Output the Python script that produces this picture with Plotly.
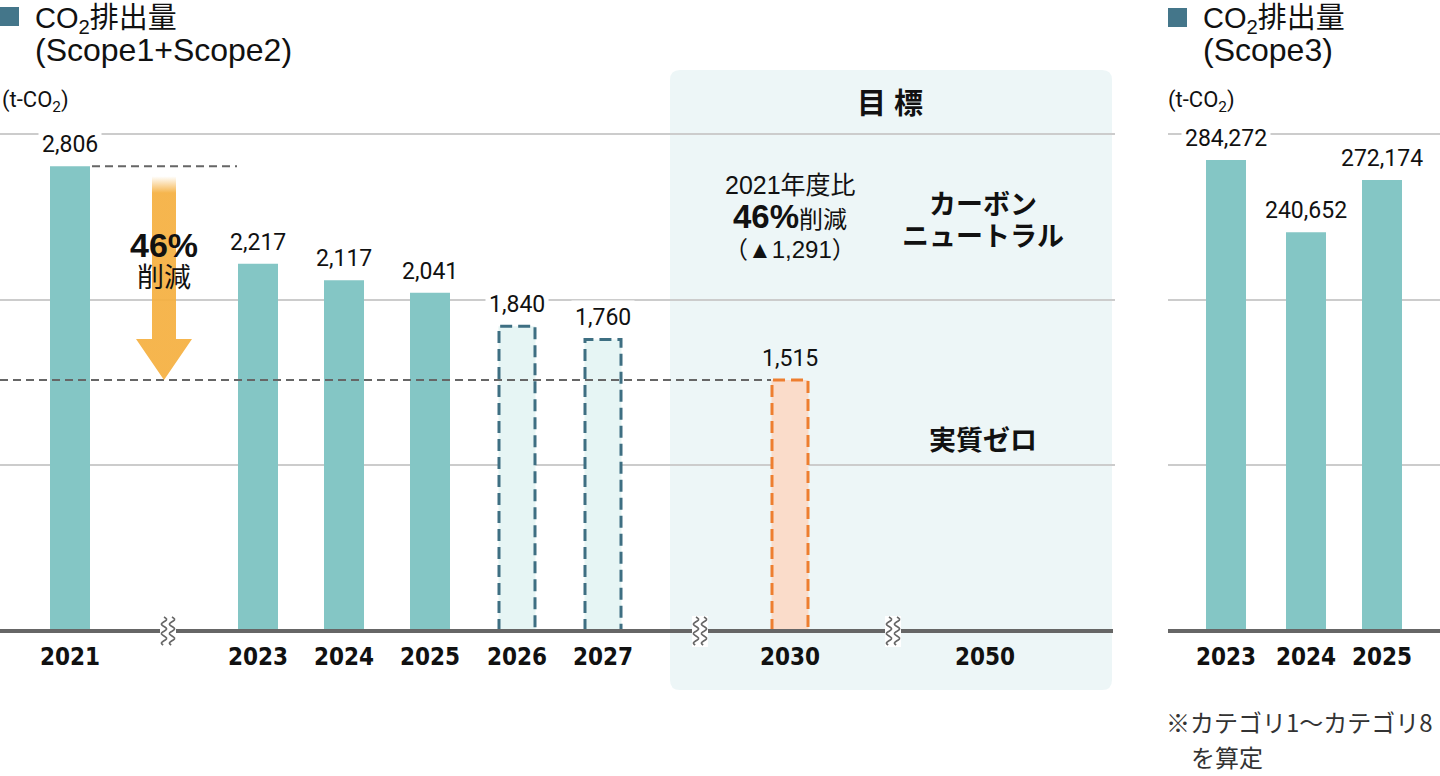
import math
import plotly.graph_objects as go

W, H = 1440, 776

# ---------------- data ----------------
s12_actual_years = ["2021", "2023", "2024", "2025"]
s12_actual = [2806, 2217, 2117, 2041]
s12_plan_years = ["2026", "2027"]
s12_plan = [1840, 1760]
s12_target_years = ["2030"]
s12_target = [1515]
s12_tick_years = ["2021", "2023", "2024", "2025", "2026", "2027", "2030", "2050"]
s3_years = ["2023", "2024", "2025"]
s3_values = [284272, 240652, 272174]
reduction_pct = 46
reduction_abs = 1291

# ---------------- layout constants (pixel slots) ----------------
SLOT = {"2021": 70, "2023": 258, "2024": 344, "2025": 430, "2026": 517,
        "2027": 603, "2030": 790, "2050": 985}
SLOT3 = {"2023": 1226, "2024": 1306, "2025": 1382}
BREAKS = [168, 700, 893]
BASE_PX, GRID_TOP_PX, DOM_TOP_PX = 631, 134, 118
Y1_GRID, Y3_GRID = 3000, 300000
PX_PER_UNIT = (BASE_PX - GRID_TOP_PX) / Y1_GRID
UNIT_PER_PX = 1 / PX_PER_UNIT
Y1_MAX = (BASE_PX - DOM_TOP_PX) * UNIT_PER_PX
Y3_MAX = Y1_MAX * Y3_GRID / Y1_GRID

TEAL = "#84C6C5"
PLAN_FILL, PLAN_LINE = "#E6F5F4", "#3E6F82"
TGT_FILL, TGT_LINE = "#FADCCA", "#EE7E2F"
BOX = "#EDF6F7"
GRID = "#cccccc"
AXIS = "#666666"
SQUARE = "#44768A"

NUM_FONT = "Roboto, sans-serif"
TICK_FONT = "DejaVu Sans Condensed, Roboto, sans-serif"
JP_FONT = "Liberation Sans, Noto Sans CJK JP, sans-serif"


def px(x):
    return x / W


def py(y):
    return (H - y) / H


fig = go.Figure()

# dashed reference lines
fig.add_trace(go.Scatter(
    x=[SLOT["2021"] + 22, 237], y=[s12_actual[0]] * 2, mode="lines",
    line=dict(color=AXIS, width=2, dash="8px,5px"), hoverinfo="skip", showlegend=False))
fig.add_trace(go.Scatter(
    x=[0, SLOT["2030"] - 19], y=[s12_target[0]] * 2, mode="lines",
    line=dict(color=AXIS, width=2, dash="8px,5px"), hoverinfo="skip", showlegend=False))

# reduction arrow (from 2021 level down to 2030 target level)
cx = (SLOT["2021"] + SLOT["2023"]) / 2
top = s12_actual[0] - 6 * UNIT_PER_PX
tip = s12_target[0]
head_base = tip + 41 * UNIT_PER_PX
sh, hh = 12, 28
fig.add_trace(go.Scatter(
    x=[cx - sh, cx + sh, cx + sh, cx + hh, cx, cx - hh, cx - sh, cx - sh],
    y=[top, top, head_base, head_base, tip, head_base, head_base, top],
    mode="lines", fill="toself", line=dict(width=0, color="rgba(0,0,0,0)"),
    fillgradient=dict(type="vertical",
                      colorscale=[[0, "#F5B041"], [0.9, "#F5B041"], [0.98, "#FFFFFF"], [1, "#FFFFFF"]]),
    opacity=0.93, hoverinfo="skip", showlegend=False))

# actual bars
fig.add_trace(go.Bar(
    x=[SLOT[y] for y in s12_actual_years], y=s12_actual, width=40,
    marker=dict(color=TEAL, line=dict(width=0)), hoverinfo="skip", showlegend=False))


def dashed_bars(years, vals, fill, line):
    fig.add_trace(go.Bar(
        x=[SLOT[y] for y in years], y=vals, width=37,
        marker=dict(color=fill, line=dict(width=0)), hoverinfo="skip", showlegend=False))
    xs, ys = [], []
    for y, v in zip(years, vals):
        c = SLOT[y]
        xs += [c - 18, c - 18, c + 18, c + 18, None]
        ys += [0, v, v, 0, None]
    fig.add_trace(go.Scatter(
        x=xs, y=ys, mode="lines", line=dict(color=line, width=3, dash="12px,6px"),
        hoverinfo="skip", showlegend=False))


dashed_bars(s12_plan_years, s12_plan, PLAN_FILL, PLAN_LINE)
dashed_bars(s12_target_years, s12_target, TGT_FILL, TGT_LINE)

# scope 3 bars
fig.add_trace(go.Bar(
    x=[SLOT3[y] for y in s3_years], y=s3_values, width=40, xaxis="x2", yaxis="y2",
    marker=dict(color=TEAL, line=dict(width=0)), hoverinfo="skip", showlegend=False))

annotations = []


def value_label(x, v, xref, yref, bg):
    annotations.append(dict(
        x=x, y=v, xref=xref, yref=yref, text=f"{v:,}", showarrow=False,
        yanchor="bottom", yshift=4, bgcolor=bg, borderpad=3,
        font=dict(family=NUM_FONT, size=23, color="#111111")))


for y, v in zip(s12_actual_years, s12_actual):
    value_label(SLOT[y], v, "x", "y", "white")
for y, v in zip(s12_plan_years, s12_plan):
    value_label(SLOT[y], v, "x", "y", "white")
for y, v in zip(s12_target_years, s12_target):
    value_label(SLOT[y], v, "x", "y", BOX)
for y, v in zip(s3_years, s3_values):
    value_label(SLOT3[y], v, "x2", "y2", "white")


def txt(x, y, text, size, bold=False, xanchor="center", family=JP_FONT, color="#111111", align="center"):
    annotations.append(dict(
        x=px(x), y=py(y), xref="paper", yref="paper", text=text, showarrow=False,
        xanchor=xanchor, yanchor="middle", align=align,
        font=dict(family=family, size=size, color=color, weight="bold" if bold else "normal")))


def title(x, sub):
    txt(x, 35, "<span style='font-size:29px'>CO<sub>2</sub>排出量</span><br>"
               f"<span style='font-size:32px'>{sub}</span>", 25, xanchor="left", align="left")


# titles
title(33, "(Scope1+Scope2)")
title(1201, "(Scope3)")
txt(0, 102, "(t-CO<sub>2</sub>)", 22, xanchor="left", family=NUM_FONT)
txt(1166, 102, "(t-CO<sub>2</sub>)", 22, xanchor="left", family=NUM_FONT)

# arrow text
txt(cx, 245, f"<b>{reduction_pct}%</b>", 34)
txt(cx, 278, "削減", 27)

# target box text
txt(890, 104, "目 標", 29, bold=True)
txt(790, 185, "2021年度比", 25)
txt(790, 216, f"<b>{reduction_pct}%</b><span style='font-size:24px'>削減</span>", 33)
txt(790, 250, f"（▲{reduction_abs:,}）", 24)
txt(983, 205, "カーボン", 27, bold=True)
txt(983, 237, "ニュートラル", 27, bold=True)
txt(983, 440, "実質ゼロ", 27, bold=True)

# footnote
txt(1164, 721, "※カテゴリ1～カテゴリ8", 24, xanchor="left", family="Noto Sans CJK JP", color="#333333")
txt(1189, 756, "を算定", 24, xanchor="left", family="Noto Sans CJK JP", color="#333333")

shapes = []

# target box with rounded corners
x0, x1, y0, y1, r = 670, 1112, 70, 690, 10
path = (f"M {px(x0 + r)},{py(y0)} L {px(x1 - r)},{py(y0)} "
        f"Q {px(x1)},{py(y0)} {px(x1)},{py(y0 + r)} L {px(x1)},{py(y1 - r)} "
        f"Q {px(x1)},{py(y1)} {px(x1 - r)},{py(y1)} L {px(x0 + r)},{py(y1)} "
        f"Q {px(x0)},{py(y1)} {px(x0)},{py(y1 - r)} L {px(x0)},{py(y0 + r)} "
        f"Q {px(x0)},{py(y0)} {px(x0 + r)},{py(y0)} Z")
shapes.append(dict(type="path", path=path, xref="paper", yref="paper",
                   fillcolor=BOX, line=dict(width=0), layer="below"))

# baselines
shapes.append(dict(type="line", xref="paper", yref="paper", x0=px(0), x1=px(1113),
                   y0=py(BASE_PX), y1=py(BASE_PX), line=dict(color=AXIS, width=4)))
shapes.append(dict(type="line", xref="paper", yref="paper", x0=px(1168), x1=px(1440),
                   y0=py(BASE_PX), y1=py(BASE_PX), line=dict(color=AXIS, width=4)))

# axis break marks
for bx in BREAKS:
    shapes.append(dict(type="rect", xref="paper", yref="paper", x0=px(bx - 8), x1=px(bx + 8),
                       y0=py(647), y1=py(616), fillcolor="white", line=dict(width=0)))
    for off in (-4, 4):
        pts = []
        n = 28
        for i in range(n + 1):
            yy = 617 + i
            xx = bx + off + 2.6 * math.sin(i / 9.5 * 2 * math.pi)
            pts.append(f"{px(xx):.5f},{py(yy):.5f}")
        shapes.append(dict(type="path", xref="paper", yref="paper",
                           path="M " + " L ".join(pts), line=dict(color=AXIS, width=1.6)))

# title squares
shapes.append(dict(type="rect", xref="paper", yref="paper", x0=px(0), x1=px(19),
                   y0=py(26), y1=py(7), fillcolor=SQUARE, line=dict(width=0)))
shapes.append(dict(type="rect", xref="paper", yref="paper", x0=px(1168), x1=px(1187),
                   y0=py(27), y1=py(8), fillcolor=SQUARE, line=dict(width=0)))

ydom = [py(BASE_PX), py(DOM_TOP_PX)]
tickfont = dict(family=TICK_FONT, size=24, color="#111111", weight="bold")
fig.update_layout(
    width=W, height=H, margin=dict(l=0, r=0, t=0, b=0),
    paper_bgcolor="white", plot_bgcolor="rgba(0,0,0,0)",
    barmode="overlay", showlegend=False,
    xaxis=dict(domain=[0, px(1115)], range=[0, 1115], showgrid=False, zeroline=False,
               tickvals=[SLOT[y] for y in s12_tick_years], ticktext=s12_tick_years,
               ticks="", ticklabelstandoff=9, tickfont=tickfont, fixedrange=True),
    yaxis=dict(domain=ydom, range=[0, Y1_MAX], tickvals=[1000, 2000, 3000],
               showticklabels=False, showgrid=True, gridcolor=GRID, gridwidth=2,
               zeroline=False, showline=False, fixedrange=True),
    xaxis2=dict(domain=[px(1168), 1], range=[1168, 1440], anchor="y2", showgrid=False,
                zeroline=False, tickvals=[SLOT3[y] for y in s3_years], ticktext=s3_years,
                ticks="", ticklabelstandoff=9, tickfont=tickfont, fixedrange=True),
    yaxis2=dict(domain=ydom, range=[0, Y3_MAX], anchor="x2", tickvals=[100000, 200000, 300000],
                showticklabels=False, showgrid=True, gridcolor=GRID, gridwidth=2,
                zeroline=False, showline=False, fixedrange=True),
    shapes=shapes, annotations=annotations,
)

fig.write_html("out.html", config={"displayModeBar": False})
